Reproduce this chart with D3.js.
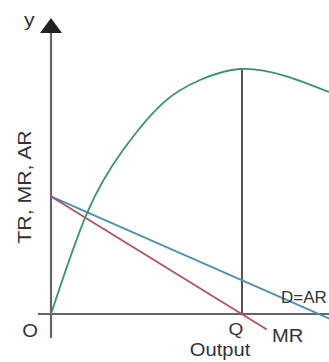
<!DOCTYPE html>
<html>
<head>
<meta charset="utf-8">
<script src="https://cdn.jsdelivr.net/npm/d3@7"></script>
<style>
  html, body { margin: 0; padding: 0; background: #fff; }
  svg { display: block; font-family: "Liberation Sans", Arial, sans-serif; }
</style>
</head>
<body>
<svg id="chart" width="329" height="362"></svg>
<script>
// Total revenue curve (output, revenue)
const trOutput  = [0, 1.885, 3.77, 5.86, 7.80, 9.90, 12.25, 14.55];
const trRevenue = [0, 41.2, 66.9, 86.1, 95.5, 100, 97.2, 90.6];

// Demand (average revenue) line end points
const arOutput  = [0, 14.6];
const arRevenue = [48, -2];

// Marginal revenue line end points
const mrOutput  = [0, 11.3];
const mrRevenue = [48, -6.3];

// Output level where TR peaks and MR = 0
const qOutput = 10;
const qPeak = 100;

const labels = { y: "y", yTitle: "TR, MR, AR", origin: "O", q: "Q", xTitle: "Output", ar: "D=AR", mr: "MR" };

const W = 329, H = 362;
const svg = d3.select("#chart");

const x = d3.scaleLinear().domain([0, 10]).range([51, 242]);
const y = d3.scaleLinear().domain([0, 100]).range([314, 69]);

const zip = (a, b) => a.map((d, i) => [d, b[i]]);
const line = d3.line().x(d => x(d[0])).y(d => y(d[1]));

// Axes
const axisColor = "#666";
svg.append("line")
  .attr("x1", x(0) - 13).attr("x2", W)
  .attr("y1", y(0)).attr("y2", y(0))
  .attr("stroke", axisColor).attr("stroke-width", 2);

svg.append("line")
  .attr("x1", x(0)).attr("x2", x(0))
  .attr("y1", y(0) + 24).attr("y2", 30)
  .attr("stroke", axisColor).attr("stroke-width", 2.2);

// Arrow head on the vertical axis
const arrow = d3.path();
arrow.moveTo(x(0), 18);
arrow.lineTo(x(0) + 11, 33);
arrow.lineTo(x(0) - 11, 33);
arrow.closePath();
svg.append("path").attr("d", arrow.toString()).attr("fill", "#222");

// Vertical line at Q
svg.append("line")
  .attr("x1", x(qOutput)).attr("x2", x(qOutput))
  .attr("y1", y(qPeak)).attr("y2", y(0))
  .attr("stroke", "#555").attr("stroke-width", 2);

// Curves
const series = [
  { pts: zip(arOutput, arRevenue), color: "#4a90b2", curve: d3.curveLinear },
  { pts: zip(mrOutput, mrRevenue), color: "#b4506a", curve: d3.curveLinear },
  { pts: zip(trOutput, trRevenue), color: "#3a9276", curve: d3.curveNatural }
];
series.forEach(s => {
  svg.append("path")
    .attr("d", line.curve(s.curve)(s.pts))
    .attr("fill", "none")
    .attr("stroke", s.color)
    .attr("stroke-width", 1.8);
});

// Text labels
const textColor = "#333";
function label(txt, tx, ty, size, anchor, rotate, sx) {
  svg.append("text")
    .attr("fill", textColor)
    .attr("font-size", size)
    .attr("text-anchor", anchor || "start")
    .attr("transform", `translate(${tx},${ty})` + (rotate ? ` rotate(${rotate})` : "") + ` scale(${sx || 1.12},1)`)
    .text(txt);
}
label(labels.y, 24, 26, 19);
label(labels.yTitle, 31, 187, 19, "middle", -90);
label(labels.origin, 30, 337, 18, "middle");
label(labels.q, x(qOutput) - 6, 335, 17, "middle");
label(labels.xTitle, 220, 356, 18, "middle");
label(labels.mr, 272, 342, 18);
label(labels.ar, 281, 303, 17, "start", 0, 1);
</script>
</body>
</html>
